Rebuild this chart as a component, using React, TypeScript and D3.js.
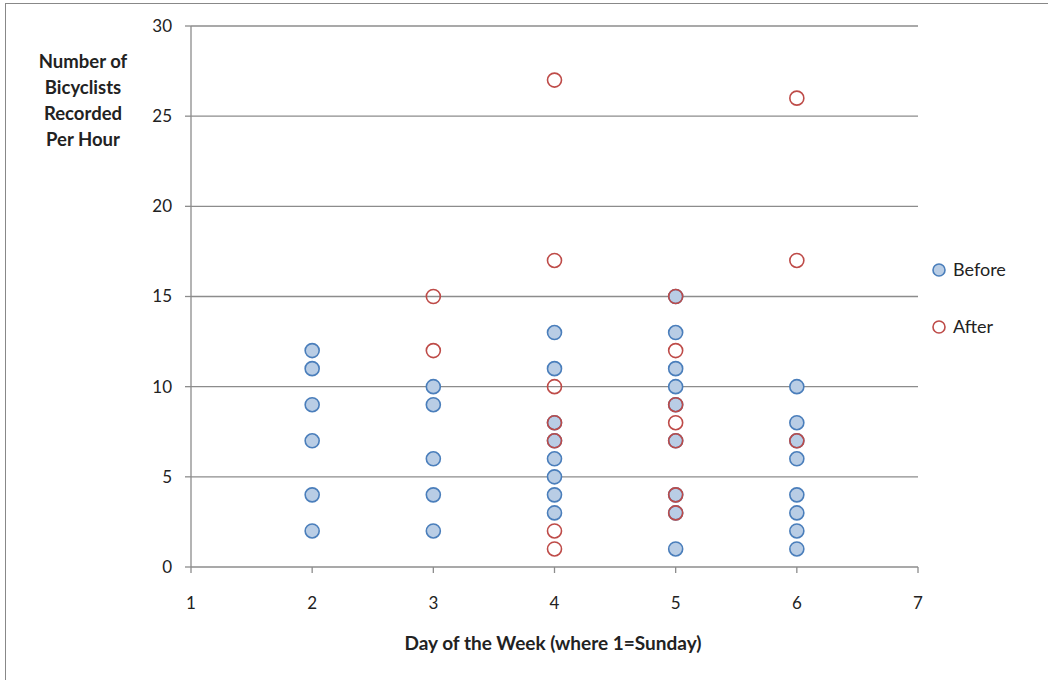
import React from "react";
import * as d3 from "d3";

const days = [2, 3, 4, 5, 6];
const beforeValues: number[][] = [
  [12, 11, 9, 7, 4, 2],
  [10, 9, 6, 4, 2],
  [13, 11, 8, 7, 6, 5, 4, 3],
  [15, 13, 11, 10, 9, 7, 4, 3, 1],
  [10, 8, 7, 6, 4, 3, 2, 1],
];
const afterValues: number[][] = [
  [],
  [15, 12],
  [27, 17, 10, 8, 7, 2, 1],
  [15, 12, 9, 8, 7, 4, 3],
  [26, 17, 7],
];
const xTicks = [1, 2, 3, 4, 5, 6, 7];
const yTicks = [0, 5, 10, 15, 20, 25, 30];
const seriesNames = ["Before", "After"];
const yTitleLines = ["Number of", "Bicyclists", "Recorded", "Per Hour"];
const xTitle = "Day of the Week (where 1=Sunday)";

const W = 1048;
const H = 680;
const FONT = "Lato, 'Open Sans', sans-serif";

export default function App() {
  const x = d3.scaleLinear().domain([1, 7]).range([191, 918]);
  const y = d3.scaleLinear().domain([0, 30]).range([567, 26]);

  const before = days.flatMap((d, i) => beforeValues[i].map((v) => ({ d, v })));
  const after = days.flatMap((d, i) => afterValues[i].map((v) => ({ d, v })));

  const blueFill = "#B9CDE5";
  const blueStroke = "#4A7EBB";
  const redStroke = "#BE4B48";
  const r = 7;

  return (
    <svg
      width={W}
      height={H}
      style={{ position: "fixed", left: 0, top: 0, background: "#fff" }}
    >
      <rect x={5.5} y={3.5} width={W + 10} height={H + 10} fill="#fff" stroke="#888" strokeWidth={1} />
      {/* gridlines */}
      {yTicks.filter((t) => t > 0).map((t) => (
        <line key={t} x1={x(1)} x2={x(7)} y1={y(t)} y2={y(t)} stroke="#8C8C8C" strokeWidth={1.3} />
      ))}
      {/* axes */}
      <line x1={x(1)} x2={x(1)} y1={y(30)} y2={y(0)} stroke="#8C8C8C" strokeWidth={1.3} />
      <line x1={x(1)} x2={x(7)} y1={y(0)} y2={y(0)} stroke="#8C8C8C" strokeWidth={1.3} />
      {yTicks.map((t) => (
        <g key={"yt" + t}>
          <line x1={x(1) - 6} x2={x(1)} y1={y(t)} y2={y(t)} stroke="#8C8C8C" strokeWidth={1.3} />
          <text x={x(1) - 19} y={y(t)} dy="0.35em" textAnchor="end" fontFamily={FONT} fontSize={17} fill="#222">
            {t}
          </text>
        </g>
      ))}
      {xTicks.map((t) => (
        <g key={"xt" + t}>
          <line x1={x(t)} x2={x(t)} y1={y(0)} y2={y(0) + 6} stroke="#8C8C8C" strokeWidth={1.3} />
          <text x={x(t)} y={603} dy="0.35em" textAnchor="middle" fontFamily={FONT} fontSize={17} fill="#222">
            {t}
          </text>
        </g>
      ))}
      {/* y title */}
      {yTitleLines.map((l, i) => (
        <text key={l} x={83} y={62 + i * 26} dy="0.35em" textAnchor="middle" fontFamily={FONT} fontWeight="bold" fontSize={18.5} fill="#222">
          {l}
        </text>
      ))}
      <text x={553} y={643} dy="0.35em" textAnchor="middle" fontFamily={FONT} fontWeight="bold" fontSize={19} fill="#222">
        {xTitle}
      </text>
      {/* points */}
      {before.map((p, i) => (
        <circle key={"b" + i} cx={x(p.d)} cy={y(p.v)} r={r} fill={blueFill} stroke={blueStroke} strokeWidth={1.6} />
      ))}
      {after.map((p, i) => (
        <circle key={"a" + i} cx={x(p.d)} cy={y(p.v)} r={r} fill="none" stroke={redStroke} strokeWidth={1.6} />
      ))}
      {/* legend */}
      <circle cx={939} cy={270} r={6} fill={blueFill} stroke={blueStroke} strokeWidth={1.6} />
      <text x={953} y={270} dy="0.35em" fontFamily={FONT} fontSize={18} fill="#222">
        {seriesNames[0]}
      </text>
      <circle cx={939} cy={327} r={6} fill="none" stroke={redStroke} strokeWidth={1.6} />
      <text x={953} y={327} dy="0.35em" fontFamily={FONT} fontSize={18} fill="#222">
        {seriesNames[1]}
      </text>
    </svg>
  );
}
